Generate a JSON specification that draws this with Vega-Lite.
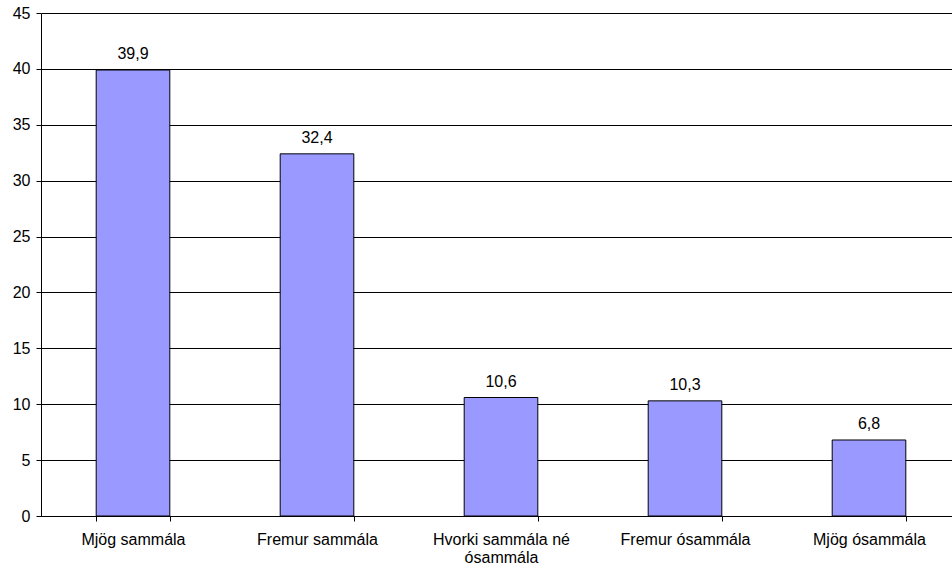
{
  "$schema": "https://vega.github.io/schema/vega-lite/v6.json",
  "autosize": {"type": "none"},
  "width": 920,
  "height": 503,
  "padding": {"left": 41, "top": 13, "right": 0, "bottom": 51},
  "config": {
    "locale": {"number": {"decimal": ",", "thousands": ".", "grouping": [3], "currency": ["", " kr"]}},
    "font": "Liberation Sans",
    "view": {"stroke": null},
    "axis": {"labelFont": "Liberation Sans", "labelFontSize": 16, "labelColor": "#000", "domainColor": "#000", "tickColor": "#000", "gridColor": "#000", "gridOpacity": 1, "domainWidth": 1, "tickWidth": 1, "gridWidth": 1}
  },
  "data": {"values": [
    {"svar": "Mjög sammála", "hlutfall": 39.9},
    {"svar": "Fremur sammála", "hlutfall": 32.4},
    {"svar": "Hvorki sammála né ósammála", "hlutfall": 10.6},
    {"svar": "Fremur ósammála", "hlutfall": 10.3},
    {"svar": "Mjög ósammála", "hlutfall": 6.8}
  ]},
  "encoding": {
    "x": {"field": "svar", "type": "nominal", "sort": null,
      "scale": {"paddingInner": 0.6, "paddingOuter": 0.3},
      "axis": {"title": null, "labelAngle": 0, "tickBand": "extent", "tickSize": 5, "labelPadding": 10,
        "labelExpr": "datum.label == 'Hvorki sammála né ósammála' ? ['Hvorki sammála né', 'ósammála'] : datum.label",
        "labelLineHeight": 18, "labelLimit": 300}},
    "y": {"field": "hlutfall", "type": "quantitative",
      "scale": {"domain": [0, 45], "nice": false},
      "axis": {"title": null, "values": [0,5,10,15,20,25,30,35,40,45], "tickSize": 5, "labelPadding": 6, "grid": true}}
  },
  "layer": [
    {"mark": {"type": "bar", "color": "#9999FF", "stroke": "#000", "strokeWidth": 1}},
    {"mark": {"type": "text", "baseline": "bottom", "dy": -8, "fontSize": 16, "font": "Liberation Sans", "color": "#000"},
     "encoding": {"text": {"field": "hlutfall", "type": "quantitative", "format": ".1f"}}}
  ]
}
